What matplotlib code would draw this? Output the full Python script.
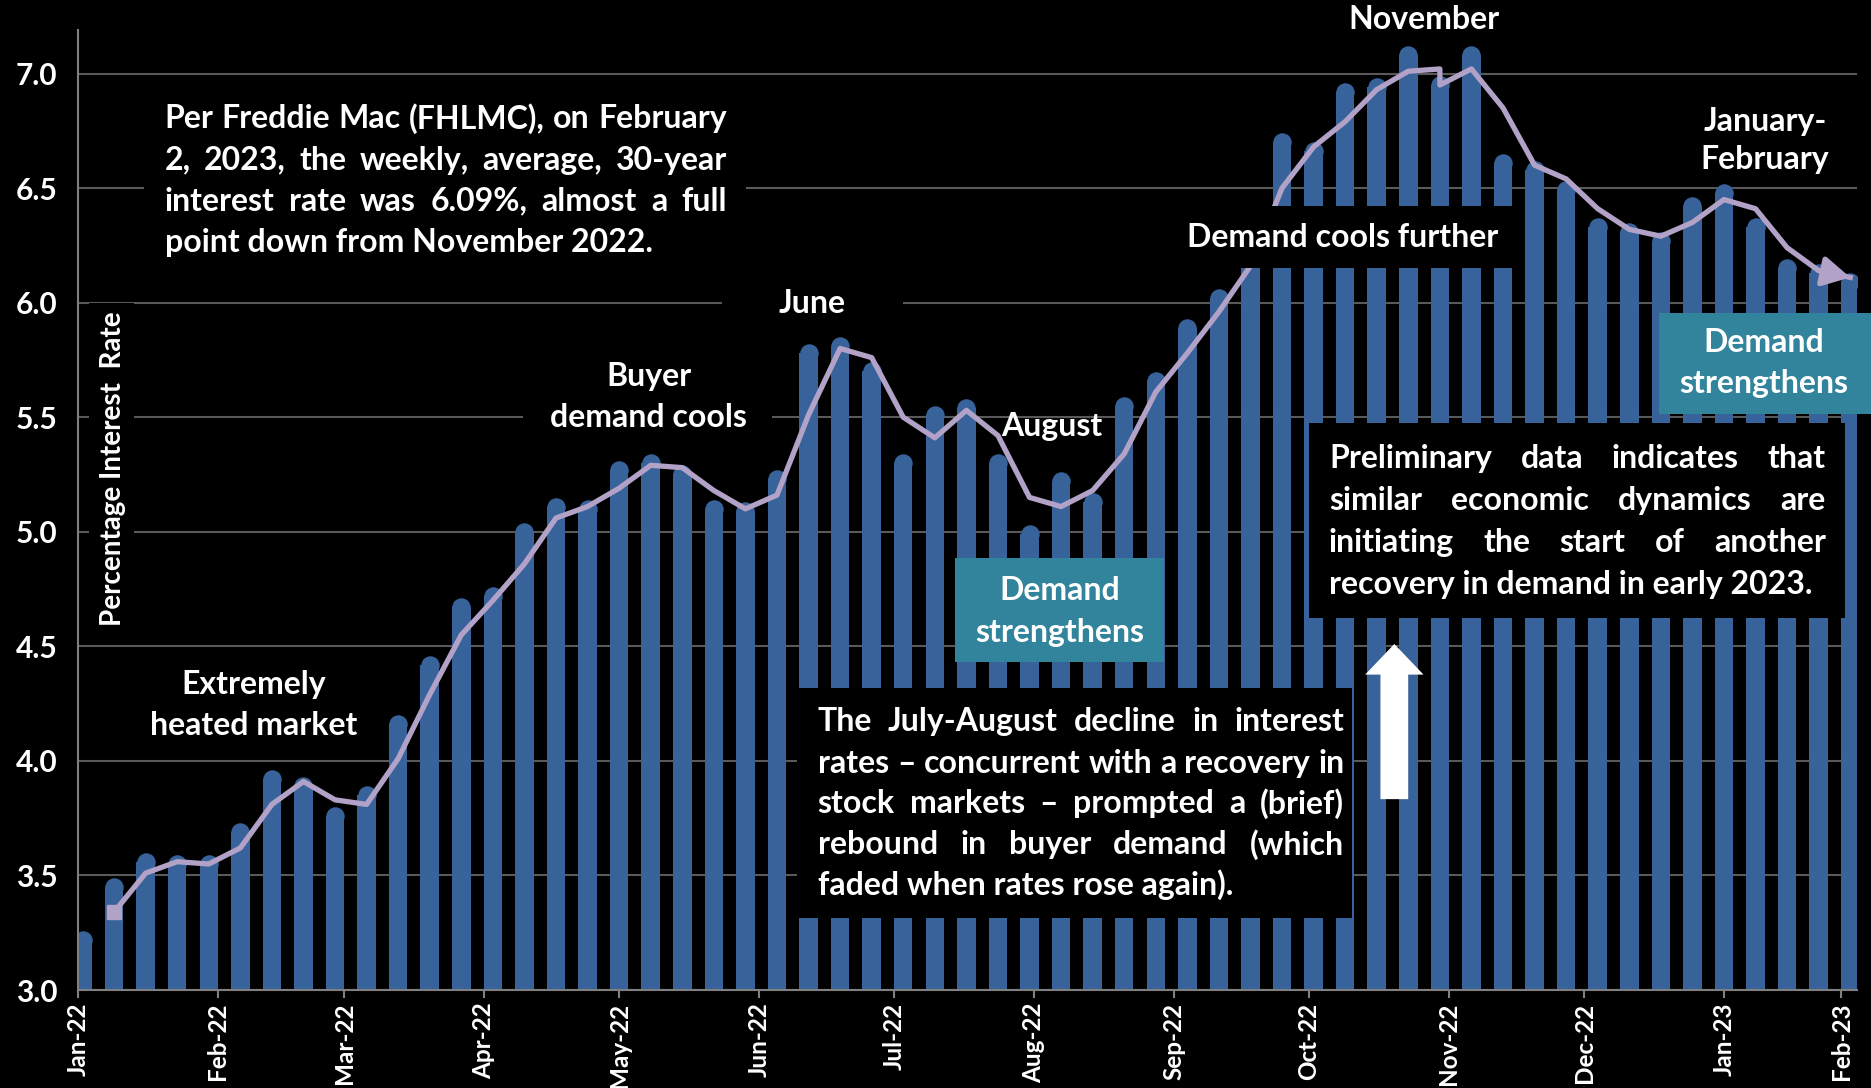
import pandas as pd
import matplotlib
matplotlib.use("Agg")
import matplotlib.pyplot as plt
from matplotlib.patches import Rectangle

plt.rcParams['font.family'] = ['Lato', 'DejaVu Sans']
plt.rcParams['font.weight'] = 'bold'

# --- data (Freddie Mac weekly 30-year rate) ---
start = pd.Timestamp('2022-01-01')
week_dates = pd.date_range('2022-01-02', periods=57, freq='7D')
rates = [3.22, 3.45, 3.56, 3.55, 3.55, 3.69, 3.92, 3.89, 3.76, 3.85,
         4.16, 4.42, 4.67, 4.72, 5.00, 5.11, 5.10, 5.27, 5.30, 5.25,
         5.10, 5.09, 5.23, 5.78, 5.81, 5.70, 5.30, 5.51, 5.54, 5.30,
         4.99, 5.22, 5.13, 5.55, 5.66, 5.89, 6.02, 6.29, 6.70, 6.66,
         6.92, 6.94, 7.08, 6.95, 7.08, 6.61, 6.58, 6.49, 6.33, 6.31,
         6.27, 6.42, 6.48, 6.33, 6.15, 6.13, 6.09]

# two-week average line (week index of each point; week 43 appears twice)
avg_week = list(range(1, 44)) + [43] + list(range(44, 57))
avg_rates = [3.34, 3.51, 3.56, 3.55, 3.62, 3.81, 3.91, 3.83, 3.81, 4.01,
             4.29, 4.55, 4.70, 4.86, 5.06, 5.11, 5.19, 5.29, 5.28, 5.18,
             5.10, 5.16, 5.51, 5.80, 5.76, 5.50, 5.41, 5.53, 5.42, 5.15,
             5.11, 5.18, 5.34, 5.61, 5.78, 5.96, 6.16, 6.50, 6.68, 6.79,
             6.93, 7.01, 7.02, 6.95, 7.02, 6.85, 6.60, 6.54, 6.41, 6.32,
             6.29, 6.35, 6.45, 6.41, 6.24, 6.14, 6.11]

month_starts = pd.date_range('2022-01-01', '2023-01-01', freq='MS')
month_labels = [d.strftime('%b-%y') for d in month_starts] + ['Feb-23']
yticks = [3.0, 3.5, 4.0, 4.5, 5.0, 5.5, 6.0, 6.5, 7.0]

BAR = '#37629a'
LINE = '#b3a2c7'
TEAL = '#31849b'
GRID = '#595959'
AXIS = '#808080'
TXT = 23

x = (week_dates - start).days.values
line_x = [x[i] for i in avg_week]

fig = plt.figure(figsize=(18.71, 10.88), dpi=100, facecolor='black')
ax = fig.add_axes([78/1871, 1 - 990/1088, (1857-78)/1871, 960/1088])
ax.set_facecolor('black')

ax.bar(x, rates, width=4.1, color=BAR, zorder=2)
ax.scatter(x, rates, s=177, color=BAR, linewidths=0, zorder=2)
ax.plot(line_x, avg_rates, color=LINE, lw=3.8, marker='s', markevery=[0],
        ms=10, zorder=3)
ax.annotate('', xy=(line_x[-1], avg_rates[-1]), xytext=(line_x[-2], avg_rates[-2]),
            arrowprops=dict(arrowstyle='-|>,head_length=0.55,head_width=0.3',
                            color=LINE, lw=3.8, mutation_scale=30,
                            shrinkA=0, shrinkB=0), zorder=3)

ax.set_xlim(0, 394.5)
ax.set_ylim(3.0, 7.19)
ax.set_yticks(yticks)
ax.set_yticklabels(['%.1f' % v for v in yticks])
ax.set_xticks(list((month_starts - start).days) + [x[-1] - 2])
ax.set_xticklabels(month_labels)
ax.yaxis.grid(True, color=GRID, lw=1.5)
ax.set_axisbelow(True)
for s in ['top', 'right']:
    ax.spines[s].set_visible(False)
for s in ['left', 'bottom']:
    ax.spines[s].set_color(AXIS)
    ax.spines[s].set_linewidth(1.5)
ax.tick_params(axis='x', length=6, width=1.5, color=AXIS, pad=3,
               labelsize=17.5, labelcolor='white', labelrotation=90)
ax.tick_params(axis='y', length=0, pad=15, labelsize=21.5, labelcolor='white')


def box(x0, x1, y0, y1, color='black'):
    ax.add_patch(Rectangle((x0, y0), x1 - x0, y1 - y0, facecolor=color,
                           edgecolor='none', zorder=4, clip_on=False))


def label(xc, ys, lines, size=TXT):
    for y, s in zip(ys, lines):
        ax.text(xc, y, s, ha='center', va='center', color='white',
                size=size, zorder=5)


def justify(x0, x1, ys, lines, size=TXT):
    r = fig.canvas.get_renderer()
    p0 = ax.transData.transform((x0, 0))[0]
    p1 = ax.transData.transform((x1, 0))[0]
    inv = ax.transData.inverted()
    for k, (y, line) in enumerate(zip(ys, lines)):
        if k == len(lines) - 1:
            ax.text(x0, y, line, ha='left', va='center', color='white',
                    size=size, zorder=5)
            continue
        words = line.split()
        ts = [ax.text(0, y, w, ha='left', va='center', color='white',
                      size=size, zorder=5) for w in words]
        ws = [t.get_window_extent(r).width for t in ts]
        gap = (p1 - p0 - sum(ws)) / (len(words) - 1)
        p = p0
        for t, w in zip(ts, ws):
            t.set_x(inv.transform((p, 0))[0])
            p += w + gap


# y label
box(2.4, 12.4, 4.53, 6.0)
ax.text(7.8, 5.276, 'Percentage Interest  Rate', rotation=90, ha='center',
        va='center', color='white', size=20, zorder=5)

# top-left note
box(14.7, 148.1, 6.12, 6.95)
justify(19.2, 143.9, [6.802, 6.622, 6.443, 6.263],
        ['Per Freddie Mac (FHLMC), on February',
         '2, 2023, the weekly, average, 30-year',
         'interest rate was 6.09%, almost a full',
         'point down from November 2022.'])

label(39.0, [4.333, 4.156], ['Extremely', 'heated market'])
box(98.7, 153.9, 5.406, 5.786)
label(126.5, [5.677, 5.5], ['Buyer', 'demand cools'])
box(142.8, 183.0, 5.905, 6.07)
label(162.7, [5.995], ['June'])
label(216.0, [5.458], ['August'])
box(243.0, 319.9, 6.151, 6.422)
label(280.5, [6.286], ['Demand cools further'])
label(298.5, [7.234], ['November'])
label(374.1, [6.792, 6.625], ['January-', 'February'])

box(194.4, 240.9, 4.432, 4.885, TEAL)
label(217.6, [4.745, 4.5625], ['Demand', 'strengthens'])
box(350.6, 400.0, 5.516, 5.953, TEAL)
label(373.8, [5.828, 5.646], ['Demand', 'strengthens'])

box(159.5, 282.6, 3.3125, 4.318)
justify(164.0, 280.8, [4.172, 3.990, 3.8125, 3.635, 3.458],
        ['The July-August decline in interest',
         'rates \u2013 concurrent with a recovery in',
         'stock markets \u2013 prompted a (brief)',
         'rebound in buyer demand (which',
         'faded when rates rose again).'])

box(272.9, 391.8, 4.625, 5.474)
justify(277.4, 387.6, [5.318, 5.135, 4.953, 4.771],
        ['Preliminary data indicates that',
         'similar economic dynamics  are',
         'initiating the start of another',
         'recovery in demand in early 2023.'])

ax.annotate('', xy=(291.9, 4.51), xytext=(291.9, 3.833),
            arrowprops=dict(arrowstyle='simple,head_length=1.1,head_width=2.1,tail_width=1.0',
                            mutation_scale=20, fc='white', ec='none',
                            shrinkA=0, shrinkB=0), zorder=5)

fig.savefig('out.png', dpi=100, facecolor='black')
